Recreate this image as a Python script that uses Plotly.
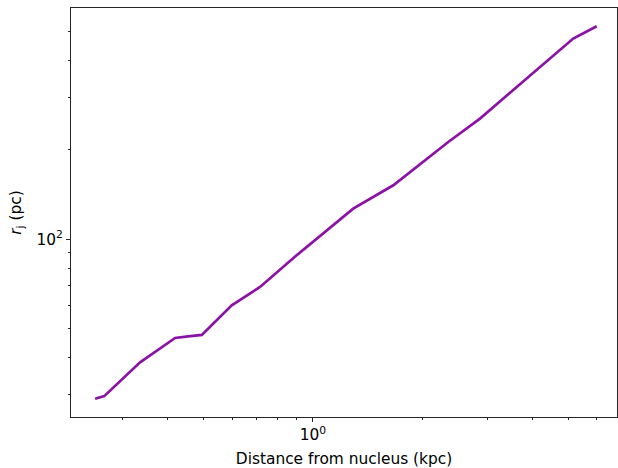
import plotly.graph_objects as go

# Data (log-log)
distance_kpc = [0.253, 0.268, 0.336, 0.419, 0.455, 0.496, 0.599, 0.716, 0.902,
                1.289, 1.66, 2.348, 2.868, 5.165, 5.99]
r_j_pc = [29.0, 29.6, 38.5, 46.5, 47.1, 47.6, 59.9, 69.1, 88.3,
          126.9, 152.1, 212.8, 255.2, 474.8, 522.4]

x_major = [1]
x_major_text = ["10<sup>0</sup>"]
x_minor = [0.3, 0.4, 0.5, 0.6, 0.7, 0.8, 0.9, 2, 3, 4, 5, 6]
y_major = [100]
y_major_text = ["10<sup>2</sup>"]
y_minor = [30, 40, 50, 60, 70, 80, 90, 200, 300, 400, 500]

FONT = "DejaVu Sans"
FS = 15.4
AX = "#262626"

fig = go.Figure()
fig.add_trace(go.Scatter(
    x=distance_kpc, y=r_j_pc, mode="lines",
    line=dict(color="#8a12a5", width=2.7),
    showlegend=False, hoverinfo="skip",
))

axis_common = dict(
    type="log", showgrid=False, zeroline=False, automargin=False,
    showline=True, linecolor=AX, linewidth=1, mirror=True,
    ticks="outside", ticklen=4, tickwidth=1, tickcolor=AX,
    tickfont=dict(family=FONT, size=FS, color="black"),
)

fig.update_layout(
    width=618, height=468,
    margin=dict(l=71, r=1, t=8, b=51),
    paper_bgcolor="white", plot_bgcolor="white",
    font=dict(family=FONT, size=FS, color="black"),
    xaxis=dict(
        **axis_common,
        range=[-0.663, 0.833],
        tickmode="array", tickvals=x_major, ticktext=x_major_text,
        minor=dict(ticks="outside", ticklen=2.2, tickwidth=0.8, tickcolor=AX,
                   tickmode="array", tickvals=x_minor),
        title=dict(text="Distance from nucleus (kpc)",
                   font=dict(family=FONT, size=FS), standoff=11),
    ),
    yaxis=dict(
        **axis_common,
        range=[1.401, 2.7796],
        tickmode="array", tickvals=y_major, ticktext=y_major_text,
        minor=dict(ticks="outside", ticklen=2.2, tickwidth=0.8, tickcolor=AX,
                   tickmode="array", tickvals=y_minor),
        title=dict(text="<i>r</i><sub>j</sub> (pc)",
                   font=dict(family=FONT, size=FS), standoff=11),
    ),
)

fig.write_html(
    "out.html",
    config={"responsive": False, "displayModeBar": False},
    post_script="document.body.style.margin='0';document.body.style.overflow='hidden';",
)
